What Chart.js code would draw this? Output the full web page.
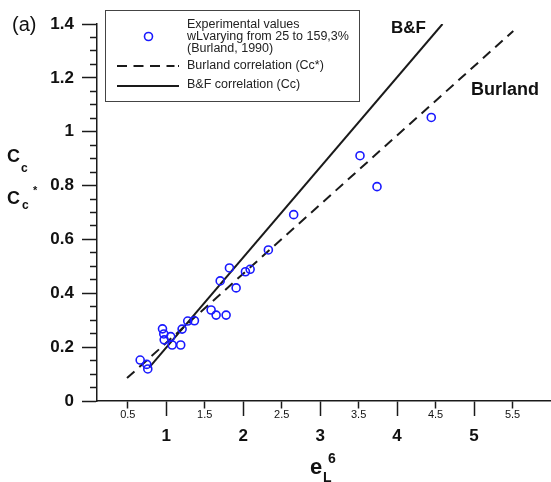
<!DOCTYPE html>
<html>
<head>
<meta charset="utf-8">
<script src="https://cdn.jsdelivr.net/npm/chart.js@4.4.1/dist/chart.umd.min.js"></script>
<style>
html,body{margin:0;padding:0;background:#fff;}
#wrap{width:551px;height:482px;position:relative;}
</style>
</head>
<body>
<div id="wrap"><canvas id="c"></canvas></div>
<script>
// ---- data ----
const expX = [0.661, 0.747, 0.760, 0.951, 0.968, 0.973, 1.058, 1.077, 1.188, 1.206, 1.279, 1.366, 1.583, 1.648, 1.778, 1.701, 1.821, 1.908, 2.029, 2.090, 2.327, 2.656, 3.518, 3.739, 4.444];
const expY = [0.152, 0.136, 0.119, 0.268, 0.249, 0.227, 0.239, 0.208, 0.208, 0.267, 0.297, 0.298, 0.338, 0.319, 0.319, 0.446, 0.494, 0.420, 0.480, 0.489, 0.561, 0.692, 0.911, 0.796, 1.053];
const burlandX = [0.49, 5.51];
const burlandY = [0.085, 1.374];
const bfX = [0.78, 4.59];
const bfY = [0.125, 1.40];
const xTickValues = [0.5, 1, 1.5, 2, 2.5, 3, 3.5, 4, 4.5, 5, 5.5];
const xTickLabels = ['0.5', '1', '1.5', '2', '2.5', '3', '3.5', '4', '4.5', '5', '5.5'];
const yTickValues = [0, 0.05, 0.1, 0.15, 0.2, 0.25, 0.3, 0.35, 0.4, 0.45, 0.5, 0.55, 0.6, 0.65, 0.7, 0.75, 0.8, 0.85, 0.9, 0.95, 1, 1.05, 1.1, 1.15, 1.2, 1.25, 1.3, 1.35, 1.4];
const yMajorValues = [0, 0.2, 0.4, 0.6, 0.8, 1, 1.2, 1.4];
const yMajorLabels = ['0', '0.2', '0.4', '0.6', '0.8', '1', '1.2', '1.4'];
const legendTexts = ['Experimental values', 'wLvarying from 25 to 159,3%', '(Burland, 1990)', 'Burland correlation (Cc*)', 'B&F correlation (Cc)'];

const FAM = '"Liberation Sans", Arial, Helvetica, sans-serif';
const BLUE = 'rgb(25,25,255)';
const INK = '#1a1a1a';
Chart.defaults.font.family = FAM;

const near = (a, b) => Math.abs(a - b) < 1e-6;
const isInt = v => near(v, Math.round(v));
const yMajorIndex = v => yMajorValues.findIndex(m => near(m, v));

const pts = (xs, ys) => xs.map((x, i) => ({x: x, y: ys[i]}));

const overlay = {
  id: 'overlay',
  afterDraw(chart) {
    const ctx = chart.ctx;
    ctx.save();
    // legend box
    ctx.strokeStyle = '#444';
    ctx.lineWidth = 1;
    ctx.fillStyle = '#fff';
    ctx.fillRect(105.5, 10.5, 254, 91);
    ctx.strokeRect(105.5, 10.5, 254, 91);
    // legend marker
    ctx.beginPath();
    ctx.arc(148.5, 36.5, 4, 0, Math.PI * 2);
    ctx.strokeStyle = BLUE;
    ctx.lineWidth = 1.6;
    ctx.stroke();
    // dashed sample
    ctx.strokeStyle = INK;
    ctx.lineWidth = 2;
    ctx.setLineDash([10, 6.5, 10, 6.5, 10, 6.5, 8, 3.5, 1.5, 20]);
    ctx.beginPath(); ctx.moveTo(117, 66); ctx.lineTo(179, 66); ctx.stroke();
    ctx.setLineDash([]);
    ctx.beginPath(); ctx.moveTo(117, 86); ctx.lineTo(179, 86); ctx.stroke();
    // legend text
    ctx.fillStyle = '#222';
    ctx.textBaseline = 'middle';
    ctx.textAlign = 'left';
    ctx.font = '12.5px ' + FAM;
    ctx.fillText(legendTexts[0], 187, 24.5);
    ctx.fillText(legendTexts[1], 187, 36.5);
    ctx.fillText(legendTexts[2], 187, 48.5);
    ctx.fillText(legendTexts[3], 187, 66);
    ctx.fillText(legendTexts[4], 187, 85);
    // annotations
    ctx.fillStyle = '#111';
    ctx.font = 'bold 17px ' + FAM;
    ctx.fillText('B&F', 391, 28.5);
    ctx.font = 'bold 18px ' + FAM;
    ctx.fillText('Burland', 471, 90);
    ctx.font = '20px ' + FAM;
    ctx.fillText('(a)', 12, 25);
    // y title
    ctx.font = 'bold 18px ' + FAM;
    ctx.fillText('C', 7, 157.5);
    ctx.fillText('C', 7, 199);
    ctx.font = 'bold 12px ' + FAM;
    ctx.fillText('c', 21, 168.5);
    ctx.fillText('c', 22, 206);
    ctx.font = 'bold 11px ' + FAM;
    ctx.fillText('*', 33, 191);
    // x title
    ctx.font = 'bold 22px ' + FAM;
    ctx.fillText('e', 310, 467.5);
    ctx.font = 'bold 14px ' + FAM;
    ctx.fillText('L', 323, 478);
    ctx.fillText('6', 328, 459.5);
    ctx.restore();
  }
};

new Chart(document.getElementById('c'), {
  type: 'scatter',
  data: {
    datasets: [
      {
        label: 'exp',
        data: pts(expX, expY),
        pointStyle: 'circle',
        pointRadius: 4,
        pointHoverRadius: 4,
        pointBorderWidth: 1.6,
        borderColor: BLUE,
        backgroundColor: 'rgba(0,0,0,0)',
        showLine: false
      },
      {
        label: 'Burland',
        data: pts(burlandX, burlandY),
        showLine: true,
        borderColor: INK,
        borderWidth: 2,
        borderDash: [10, 6.5],
        pointRadius: 0,
        fill: false
      },
      {
        label: 'B&F',
        data: pts(bfX, bfY),
        showLine: true,
        borderColor: INK,
        borderWidth: 2,
        pointRadius: 0,
        fill: false
      }
    ]
  },
  options: {
    responsive: true,
    maintainAspectRatio: false,
    animation: false,
    events: [],
    layout: {autoPadding: false, padding: {top: 24, right: 0, left: 0, bottom: 0}},
    plugins: {legend: {display: false}, tooltip: {enabled: false}},
    scales: {
      x: {
        type: 'linear',
        position: 'bottom',
        min: 0.1,
        max: 6.0,
        afterBuildTicks: s => { s.ticks = xTickValues.map(v => ({value: v})); },
        afterFit: s => { s.height = 81; s.paddingLeft = 0; s.paddingRight = 0; },
        border: {display: true, color: INK, width: 1.5},
        grid: {
          drawOnChartArea: false,
          drawTicks: true,
          tickLength: 15,
          tickWidth: 1.5,
          tickColor: INK,
          tickBorderDash: c => (c.tick && isInt(c.tick.value)) ? [] : [7, 30]
        },
        ticks: {
          autoSkip: false,
          maxRotation: 0,
          minRotation: 0,
          padding: -8,
          color: '#111',
          font: c => (c.tick && isInt(c.tick.value))
            ? {family: FAM, size: 17, weight: 'bold', lineHeight: 1.1}
            : {family: FAM, size: 11, weight: 'normal', lineHeight: 1.2},
          callback: (v, i) => {
            const k = xTickValues.findIndex(t => near(t, v));
            const lab = k >= 0 ? xTickLabels[k] : '';
            return isInt(v) ? ['', lab] : lab;
          }
        }
      },
      y: {
        type: 'linear',
        min: 0,
        max: 1.4,
        afterBuildTicks: s => { s.ticks = yTickValues.map(v => ({value: v})); },
        afterFit: s => { s.width = 97; s.paddingTop = 0; s.paddingBottom = 0; },
        border: {display: true, color: INK, width: 1.5},
        grid: {
          drawOnChartArea: false,
          drawTicks: true,
          tickLength: 15,
          tickWidth: 1.5,
          tickColor: INK,
          tickBorderDash: c => (c.tick && yMajorIndex(c.tick.value) >= 0) ? [] : [7, 8],
          tickBorderDashOffset: c => (c.tick && yMajorIndex(c.tick.value) >= 0) ? 0 : 7
        },
        ticks: {
          autoSkip: false,
          padding: 8,
          color: '#111',
          font: {family: FAM, size: 17, weight: 'bold'},
          callback: v => {
            const k = yMajorIndex(v);
            return k >= 0 ? yMajorLabels[k] : '';
          }
        }
      }
    }
  },
  plugins: [overlay]
});
</script>
</body>
</html>
